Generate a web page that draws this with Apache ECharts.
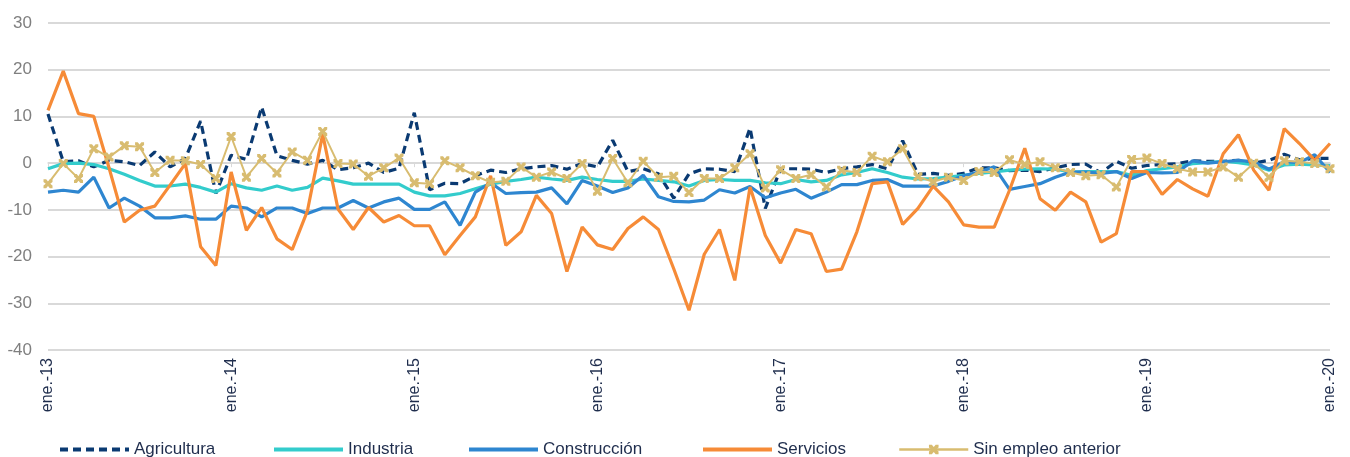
<!DOCTYPE html>
<html>
<head>
<meta charset="utf-8">
<script src="https://cdn.jsdelivr.net/npm/echarts@6/dist/echarts.min.js"></script>
<style>
html,body{margin:0;padding:0;background:#fff;}
#chart{width:1350px;height:457px;}
</style>
</head>
<body>
<div id="chart"></div>
<script>
var monthNames = ['ene.','feb.','mar.','abr.','may.','jun.','jul.','ago.','sep.','oct.','nov.','dic.'];
var years = ['13','14','15','16','17','18','19','20'];

var agricultura = [10.5,0.3,0.5,-0.8,0.6,0.3,-0.5,2.4,-0.8,1.0,9.0,-6.5,1.7,0.8,12.0,1.6,0.6,-0.2,0.6,-1.4,-1.0,0.0,-2.0,-1.1,10.8,-5.7,-4.3,-4.4,-2.7,-1.5,-2.0,-1.2,-0.8,-0.5,-1.3,-0.1,-0.8,4.9,-1.8,-1.2,-2.3,-7.5,-2.3,-1.2,-1.3,-1.8,7.5,-9.7,-1.2,-1.2,-1.3,-2.0,-1.2,-0.8,-0.3,-1.2,4.8,-2.4,-2.2,-2.6,-2.2,-1.0,-1.0,-1.6,-1.5,-1.8,-1.0,-0.3,-0.2,-2.1,0.4,-1.1,-0.5,-0.3,-0.1,0.5,0.4,0.4,0.6,0.0,0.6,1.9,0.7,1.0,1.0];
var industria = [-1.2,-0.1,0.0,-0.3,-1.2,-2.4,-3.7,-4.9,-4.9,-4.5,-5.2,-6.2,-4.4,-5.3,-5.8,-4.9,-5.8,-5.2,-3.2,-3.8,-4.5,-4.5,-4.5,-4.5,-6.2,-7.0,-7.0,-6.5,-5.5,-4.5,-3.9,-3.5,-3.0,-3.4,-3.7,-3.0,-3.5,-3.9,-3.9,-3.4,-3.7,-4.0,-4.9,-3.7,-3.5,-3.7,-3.7,-4.2,-4.4,-3.5,-4.0,-3.7,-2.5,-2.0,-1.2,-2.0,-3.0,-3.4,-3.3,-3.0,-2.6,-2.2,-1.9,-1.5,-1.3,-1.2,-1.3,-1.9,-1.8,-1.8,-1.8,-2.6,-1.6,-1.2,-0.8,-0.1,0.1,0.4,0.1,-0.4,-1.5,-0.4,-0.2,-0.4,-0.5];
var construccion = [-6.2,-5.8,-6.2,-3.0,-9.6,-7.5,-9.2,-11.7,-11.7,-11.3,-12.0,-12.0,-9.2,-9.6,-11.5,-9.6,-9.6,-10.8,-9.6,-9.6,-8.0,-9.6,-8.3,-7.5,-9.9,-9.9,-8.3,-13.3,-6.2,-4.2,-6.5,-6.3,-6.2,-5.3,-8.7,-3.7,-4.9,-6.3,-5.3,-2.6,-7.2,-8.2,-8.3,-7.9,-5.7,-6.4,-5.0,-7.4,-6.4,-5.6,-7.5,-6.2,-4.6,-4.6,-3.7,-3.5,-4.9,-4.9,-4.9,-3.9,-2.7,-1.9,-0.8,-5.6,-5.0,-4.4,-3.0,-1.9,-1.9,-2.2,-1.8,-3.3,-2.0,-2.1,-2.0,0.5,0.0,0.3,0.6,0.3,-1.3,0.3,0.1,1.8,-2.0];
var servicios = [11.3,19.7,10.6,10.0,-1.0,-12.6,-10.1,-9.2,-4.7,-0.1,-17.9,-21.9,-1.9,-14.4,-9.5,-16.2,-18.5,-10.2,6.2,-9.8,-14.2,-9.5,-12.6,-11.2,-13.4,-13.4,-19.6,-15.5,-11.5,-2.7,-17.6,-14.7,-6.9,-10.8,-23.2,-13.7,-17.5,-18.5,-14.0,-11.5,-14.2,-22.6,-31.5,-19.5,-14.2,-25.1,-5.1,-15.5,-21.4,-14.2,-15.1,-23.2,-22.7,-14.7,-4.4,-4.0,-13.1,-9.7,-4.9,-8.3,-13.2,-13.7,-13.7,-5.8,3.2,-7.6,-10.1,-6.2,-8.3,-16.9,-15.1,-1.8,-1.8,-6.7,-3.5,-5.5,-7.1,2.0,6.1,-1.5,-5.8,7.4,4.2,0.6,4.2];
var sinEmpleo = [-4.4,-0.1,-3.3,3.1,1.3,3.7,3.5,-2.0,0.6,0.5,-0.3,-3.3,5.7,-3.0,1.0,-2.1,2.4,0.6,6.8,-0.1,-0.2,-2.8,-1.0,1.1,-4.2,-4.4,0.5,-1.0,-2.7,-4.1,-3.9,-0.8,-3.0,-1.9,-3.3,-0.1,-6.0,1.0,-4.2,0.4,-3.0,-2.8,-6.3,-3.3,-3.3,-1.0,2.0,-5.3,-1.4,-3.3,-2.5,-5.1,-1.5,-2.0,1.5,0.3,3.1,-2.9,-4.0,-3.0,-3.7,-1.8,-2.0,0.7,-0.3,0.3,-1.0,-2.0,-2.7,-2.5,-5.1,0.8,1.1,-0.1,-1.2,-1.9,-1.9,-0.8,-3.0,0.0,-3.0,0.5,0.3,-0.1,-1.2];

var seriesNames = ['Agricultura','Industria','Construcción','Servicios','Sin empleo anterior'];

var categories = [];
for (var y = 0; y < years.length; y++) {
  for (var m = 0; m < 12; m++) {
    if (categories.length < agricultura.length) categories.push(monthNames[m] + '-' + years[y]);
  }
}

var FONT = '"Liberation Sans", Arial, sans-serif';
var xMark = 'path://M0,0 L3,0 L5,2.5 L7,0 L10,0 L10,3 L7.5,5 L10,7 L10,10 L7,10 L5,7.5 L3,10 L0,10 L0,7 L2.5,5 L0,3 Z';

var chart = echarts.init(document.getElementById('chart'), null, {renderer: 'canvas'});

var legendLefts = [53, 267, 462, 696, 893];
var legends = seriesNames.map(function (n, i) {
  var lg = {
    data: [n], left: legendLefts[i], top: 436, itemWidth: 69, itemHeight: 12,
    textStyle: {fontSize: 17, color: '#1F2D4D', fontFamily: FONT},
    selectedMode: false,
    lineStyle: {width: i < 4 ? 4 : 2.5}
  };
  if (i < 4) lg.itemStyle = {opacity: 0};
  return lg;
});

chart.setOption({
  animation: false,
  backgroundColor: '#ffffff',
  grid: {left: 48, right: 20, top: 23, bottom: 107, containLabel: false},
  legend: legends,
  xAxis: [{
    type: 'category', data: categories, boundaryGap: false, position: 'bottom',
    axisLine: {show: false, onZero: false}, axisTick: {show: false},
    axisLabel: {interval: 11, rotate: 90, margin: 8, fontSize: 16, color: '#1F2D4D', fontFamily: FONT},
    splitLine: {show: false}
  }, {
    type: 'category', data: categories, boundaryGap: false, position: 'bottom',
    axisLine: {show: true, onZero: true, lineStyle: {color: '#D9D9D9', width: 1.5}},
    axisTick: {show: true, interval: 11, length: 4, lineStyle: {color: '#D9D9D9', width: 1}},
    axisLabel: {show: false}, splitLine: {show: false}
  }],
  yAxis: {
    type: 'value', min: -40, max: 30, interval: 10,
    axisLine: {show: false}, axisTick: {show: false},
    axisLabel: {fontSize: 17, color: '#7F7F7F', margin: 16, fontFamily: FONT},
    splitLine: {lineStyle: {color: '#D9D9D9', width: 2}}
  },
  series: [{
    name: seriesNames[0], type: 'line', data: agricultura, symbol: 'none',
    lineStyle: {color: '#0A3A72', width: 3.2, type: [8, 5]}, itemStyle: {color: '#0A3A72'}
  }, {
    name: seriesNames[1], type: 'line', data: industria, symbol: 'none',
    lineStyle: {color: '#33CCCC', width: 3.2}, itemStyle: {color: '#33CCCC'}
  }, {
    name: seriesNames[2], type: 'line', data: construccion, symbol: 'none',
    lineStyle: {color: '#2E86D0', width: 3.2}, itemStyle: {color: '#2E86D0'}
  }, {
    name: seriesNames[3], type: 'line', data: servicios, symbol: 'none',
    lineStyle: {color: '#F68B37', width: 3.2}, itemStyle: {color: '#F68B37'}
  }, {
    name: seriesNames[4], type: 'line', data: sinEmpleo, symbol: xMark, symbolSize: 9, showSymbol: true,
    lineStyle: {color: '#D8BC70', width: 2}, itemStyle: {color: '#D8BC70', borderWidth: 0}
  }]
});
</script>
</body>
</html>
